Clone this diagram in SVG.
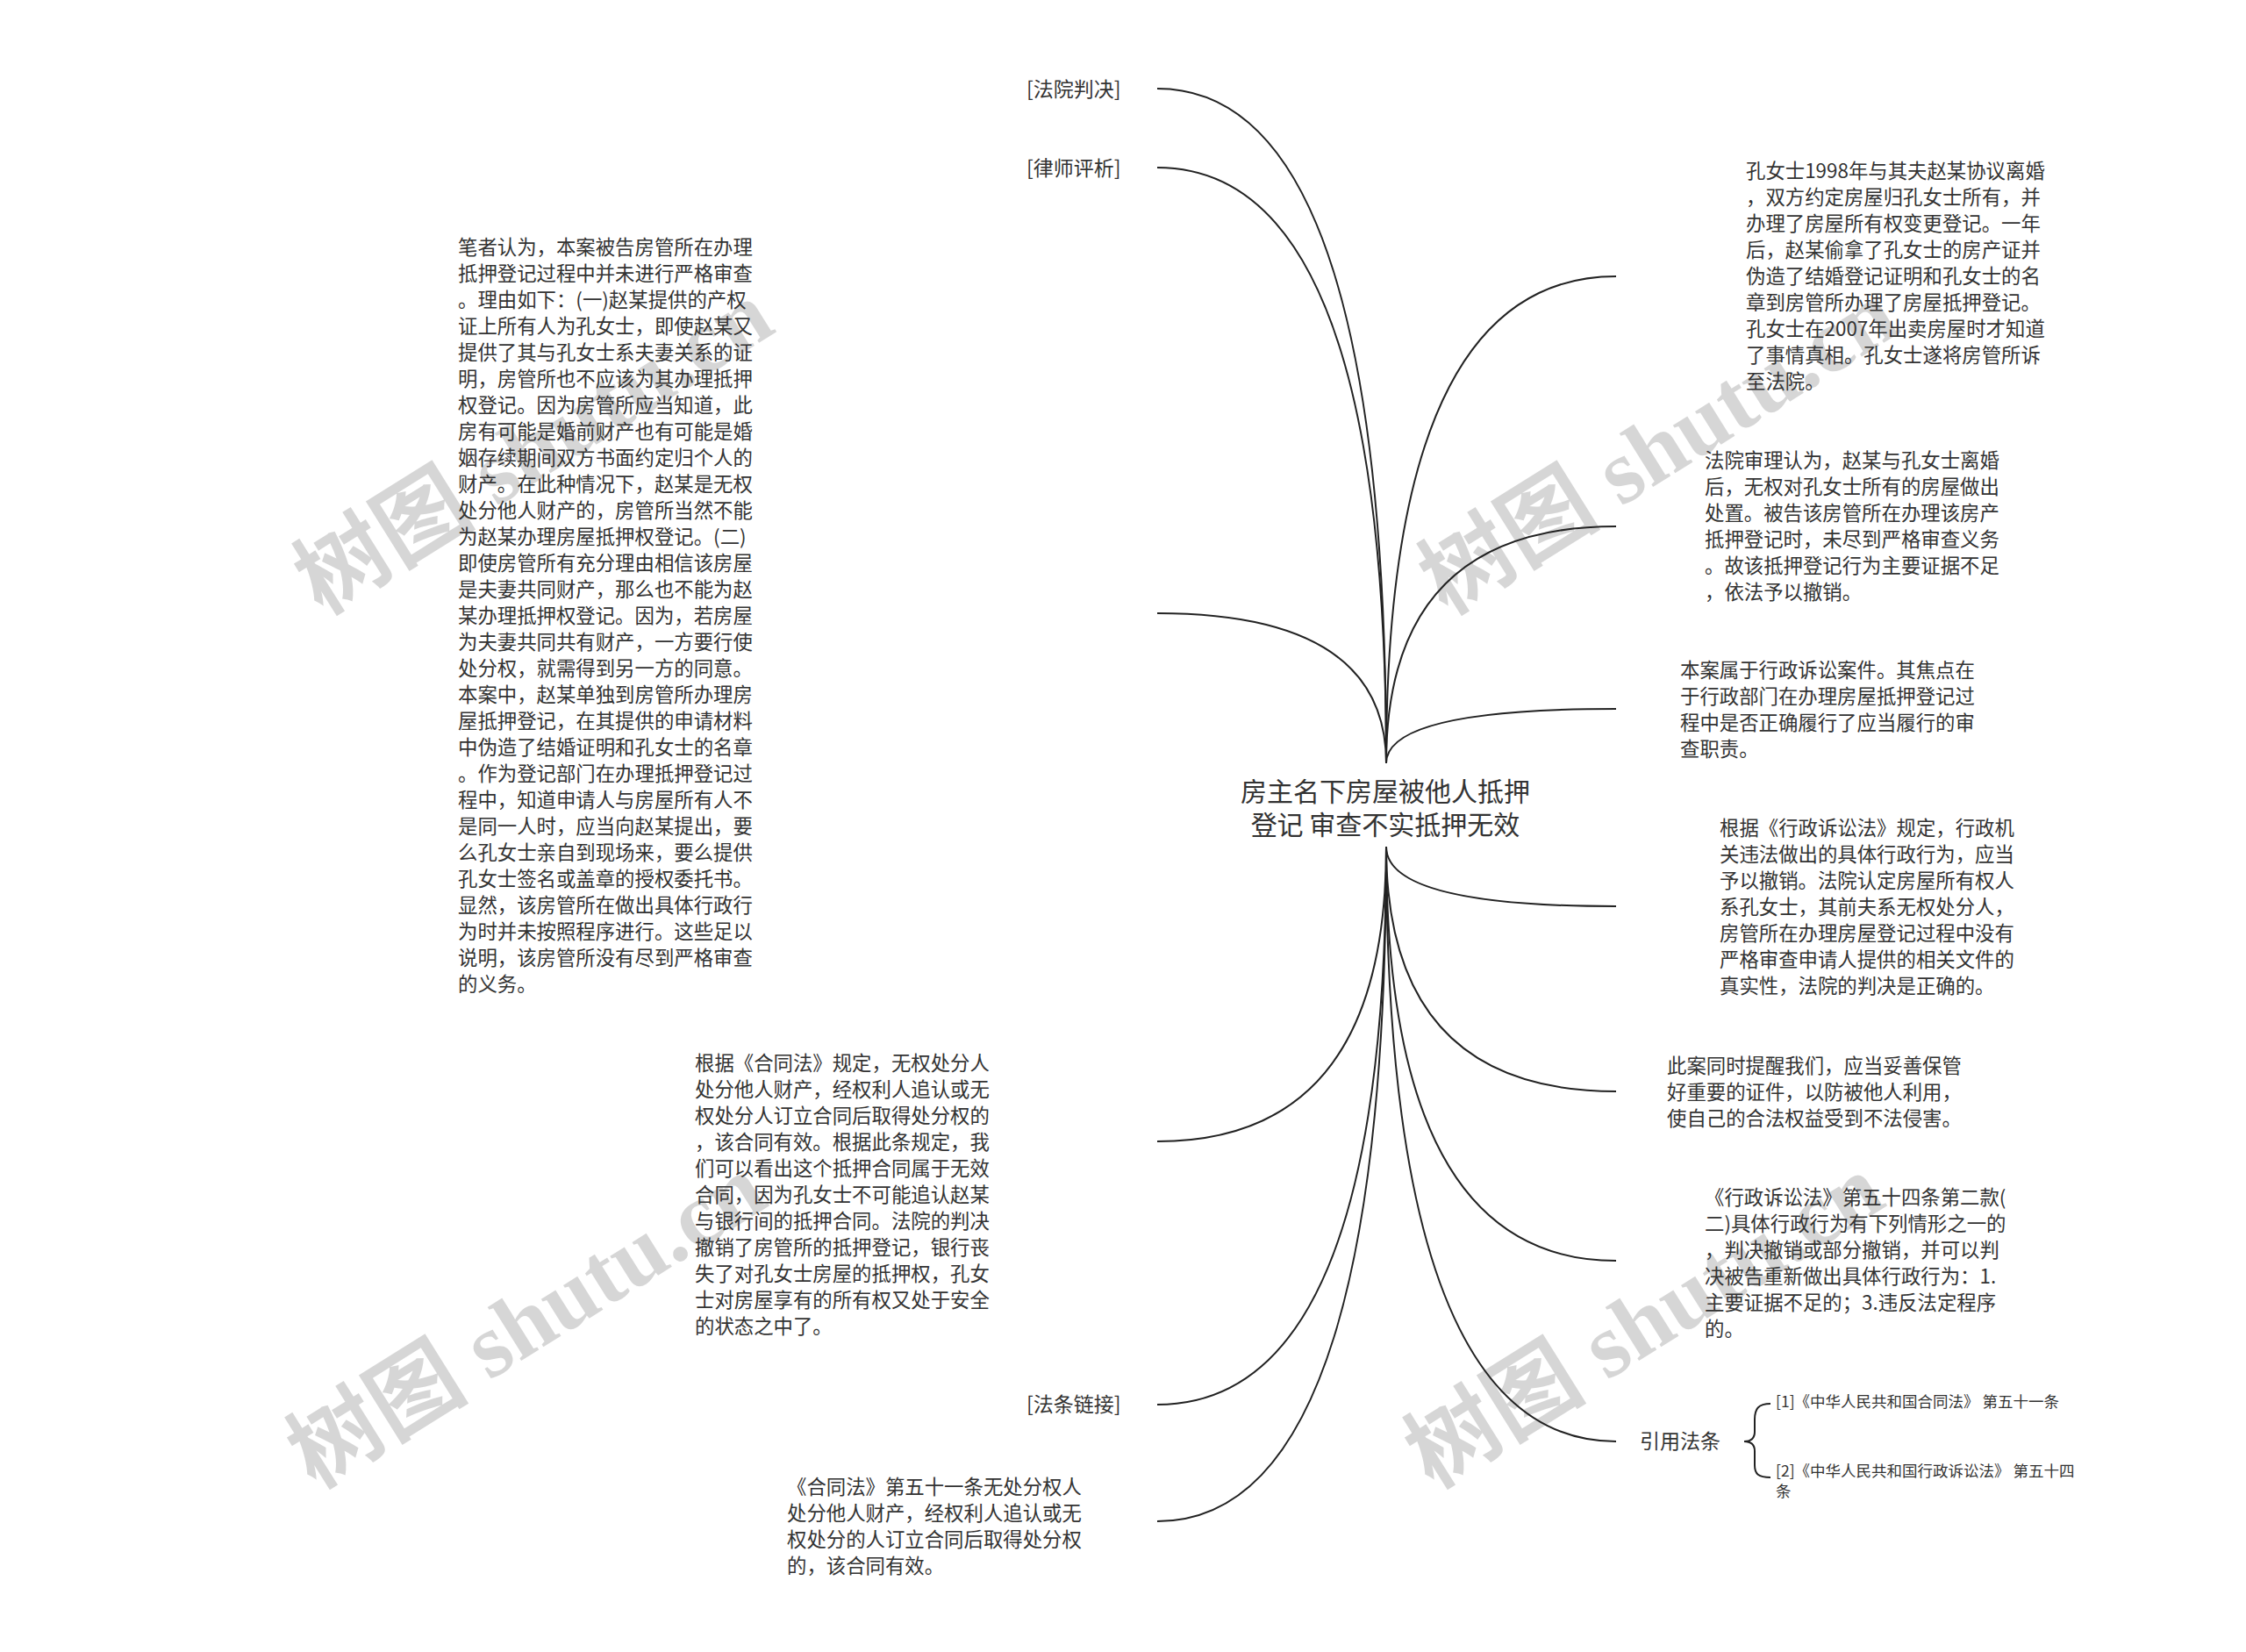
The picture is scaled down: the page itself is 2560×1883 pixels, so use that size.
<svg xmlns="http://www.w3.org/2000/svg" width="2560" height="1883" viewBox="0 0 2560 1883">
<style>
.wm{font-family:"Liberation Serif","Noto Sans CJK SC",serif;font-size:104px;fill:#000;fill-opacity:0.16;font-weight:bold}
.t{font-family:"Noto Sans CJK SC","Noto Sans",sans-serif;font-size:22.4px;fill:#333}
.lb{font-family:"Noto Sans CJK SC","Noto Sans",sans-serif;font-size:23px;fill:#333}
.title{font-family:"Noto Sans CJK SC","Noto Sans",sans-serif;font-size:30px;fill:#333;text-anchor:middle}
.s{font-family:"Noto Sans CJK SC","Noto Sans",sans-serif;font-size:17.5px;fill:#333}
.c{fill:none;stroke:#222;stroke-width:2}
</style>
<rect width="2560" height="1883" fill="#fff"/>
<g id="watermarks">
<text class="wm" transform="translate(367,702) rotate(-32)">树图 shutu.cn</text>
<text class="wm" transform="translate(1649,702) rotate(-32)">树图 shutu.cn</text>
<text class="wm" transform="translate(359,1698) rotate(-32)">树图 shutu.cn</text>
<text class="wm" transform="translate(1633,1698) rotate(-32)">树图 shutu.cn</text>
</g>
<g id="connectors">
<path class="c" d="M1580 870 Q1580 101 1319 101"/>
<path class="c" d="M1580 870 Q1580 191 1319 191"/>
<path class="c" d="M1580 870 Q1580 699 1319 699"/>
<path class="c" d="M1580 870 Q1580 315 1842 315"/>
<path class="c" d="M1580 870 Q1580 600 1842 600"/>
<path class="c" d="M1580 870 Q1580 808 1842 808"/>
<path class="c" d="M1580 965 Q1580 1301 1319 1301"/>
<path class="c" d="M1580 965 Q1580 1601 1319 1601"/>
<path class="c" d="M1580 965 Q1580 1734 1319 1734"/>
<path class="c" d="M1580 965 Q1580 1033 1842 1033"/>
<path class="c" d="M1580 965 Q1580 1244 1842 1244"/>
<path class="c" d="M1580 965 Q1580 1437 1842 1437"/>
<path class="c" d="M1580 965 Q1580 1643 1842 1643"/>
<path class="c" d="M2018 1600 C2004 1600 2000 1606 2000 1618 L2000 1632 C2000 1640 1996 1643 1988 1643 C1996 1643 2000 1646 2000 1654 L2000 1670 C2000 1680 2004 1684 2018 1684"/>
</g>
<g id="center">
<text class="title"><tspan x="1579" y="913">房主名下房屋被他人抵押</tspan><tspan x="1579" y="951">登记 审查不实抵押无效</tspan></text>
</g>
<g id="n-fyqj"><text class="lb" x="1170" y="110">[法院判决]</text></g>
<g id="n-lspx"><text class="lb" x="1170" y="200">[律师评析]</text></g>
<g id="n-bzrw">
<text class="t">
<tspan x="522" y="290">笔者认为，本案被告房管所在办理</tspan>
<tspan x="522" y="320">抵押登记过程中并未进行严格审查</tspan>
<tspan x="522" y="350">。理由如下：(一)赵某提供的产权</tspan>
<tspan x="522" y="380">证上所有人为孔女士，即使赵某又</tspan>
<tspan x="522" y="410">提供了其与孔女士系夫妻关系的证</tspan>
<tspan x="522" y="440">明，房管所也不应该为其办理抵押</tspan>
<tspan x="522" y="470">权登记。因为房管所应当知道，此</tspan>
<tspan x="522" y="500">房有可能是婚前财产也有可能是婚</tspan>
<tspan x="522" y="530">姻存续期间双方书面约定归个人的</tspan>
<tspan x="522" y="560">财产。在此种情况下，赵某是无权</tspan>
<tspan x="522" y="590">处分他人财产的，房管所当然不能</tspan>
<tspan x="522" y="620">为赵某办理房屋抵押权登记。(二)</tspan>
<tspan x="522" y="650">即使房管所有充分理由相信该房屋</tspan>
<tspan x="522" y="680">是夫妻共同财产，那么也不能为赵</tspan>
<tspan x="522" y="710">某办理抵押权登记。因为，若房屋</tspan>
<tspan x="522" y="740">为夫妻共同共有财产，一方要行使</tspan>
<tspan x="522" y="770">处分权，就需得到另一方的同意。</tspan>
<tspan x="522" y="800">本案中，赵某单独到房管所办理房</tspan>
<tspan x="522" y="830">屋抵押登记，在其提供的申请材料</tspan>
<tspan x="522" y="860">中伪造了结婚证明和孔女士的名章</tspan>
<tspan x="522" y="890">。作为登记部门在办理抵押登记过</tspan>
<tspan x="522" y="920">程中，知道申请人与房屋所有人不</tspan>
<tspan x="522" y="950">是同一人时，应当向赵某提出，要</tspan>
<tspan x="522" y="980">么孔女士亲自到现场来，要么提供</tspan>
<tspan x="522" y="1010">孔女士签名或盖章的授权委托书。</tspan>
<tspan x="522" y="1040">显然，该房管所在做出具体行政行</tspan>
<tspan x="522" y="1070">为时并未按照程序进行。这些足以</tspan>
<tspan x="522" y="1100">说明，该房管所没有尽到严格审查</tspan>
<tspan x="522" y="1130">的义务。</tspan>
</text>
</g>
<g id="n-gjhtf">
<text class="t">
<tspan x="792" y="1220">根据《合同法》规定，无权处分人</tspan>
<tspan x="792" y="1250">处分他人财产，经权利人追认或无</tspan>
<tspan x="792" y="1280">权处分人订立合同后取得处分权的</tspan>
<tspan x="792" y="1310">，该合同有效。根据此条规定，我</tspan>
<tspan x="792" y="1340">们可以看出这个抵押合同属于无效</tspan>
<tspan x="792" y="1370">合同，因为孔女士不可能追认赵某</tspan>
<tspan x="792" y="1400">与银行间的抵押合同。法院的判决</tspan>
<tspan x="792" y="1430">撤销了房管所的抵押登记，银行丧</tspan>
<tspan x="792" y="1460">失了对孔女士房屋的抵押权，孔女</tspan>
<tspan x="792" y="1490">士对房屋享有的所有权又处于安全</tspan>
<tspan x="792" y="1520">的状态之中了。</tspan>
</text>
</g>
<g id="n-ftlj"><text class="lb" x="1170" y="1609">[法条链接]</text></g>
<g id="n-htf51">
<text class="t">
<tspan x="897" y="1703">《合同法》第五十一条无处分权人</tspan>
<tspan x="897" y="1733">处分他人财产，经权利人追认或无</tspan>
<tspan x="897" y="1763">权处分的人订立合同后取得处分权</tspan>
<tspan x="897" y="1793">的，该合同有效。</tspan>
</text>
</g>
<g id="n-kns">
<text class="t">
<tspan x="1990" y="203">孔女士1998年与其夫赵某协议离婚</tspan>
<tspan x="1990" y="233">，双方约定房屋归孔女士所有，并</tspan>
<tspan x="1990" y="263">办理了房屋所有权变更登记。一年</tspan>
<tspan x="1990" y="293">后，赵某偷拿了孔女士的房产证并</tspan>
<tspan x="1990" y="323">伪造了结婚登记证明和孔女士的名</tspan>
<tspan x="1990" y="353">章到房管所办理了房屋抵押登记。</tspan>
<tspan x="1990" y="383">孔女士在2007年出卖房屋时才知道</tspan>
<tspan x="1990" y="413">了事情真相。孔女士遂将房管所诉</tspan>
<tspan x="1990" y="443">至法院。</tspan>
</text>
</g>
<g id="n-fysl">
<text class="t">
<tspan x="1943" y="533">法院审理认为，赵某与孔女士离婚</tspan>
<tspan x="1943" y="563">后，无权对孔女士所有的房屋做出</tspan>
<tspan x="1943" y="593">处置。被告该房管所在办理该房产</tspan>
<tspan x="1943" y="623">抵押登记时，未尽到严格审查义务</tspan>
<tspan x="1943" y="653">。故该抵押登记行为主要证据不足</tspan>
<tspan x="1943" y="683">，依法予以撤销。</tspan>
</text>
</g>
<g id="n-ba">
<text class="t">
<tspan x="1915" y="772">本案属于行政诉讼案件。其焦点在</tspan>
<tspan x="1915" y="802">于行政部门在办理房屋抵押登记过</tspan>
<tspan x="1915" y="832">程中是否正确履行了应当履行的审</tspan>
<tspan x="1915" y="862">查职责。</tspan>
</text>
</g>
<g id="n-xzssf">
<text class="t">
<tspan x="1960" y="952">根据《行政诉讼法》规定，行政机</tspan>
<tspan x="1960" y="982">关违法做出的具体行政行为，应当</tspan>
<tspan x="1960" y="1012">予以撤销。法院认定房屋所有权人</tspan>
<tspan x="1960" y="1042">系孔女士，其前夫系无权处分人，</tspan>
<tspan x="1960" y="1072">房管所在办理房屋登记过程中没有</tspan>
<tspan x="1960" y="1102">严格审查申请人提供的相关文件的</tspan>
<tspan x="1960" y="1132">真实性，法院的判决是正确的。</tspan>
</text>
</g>
<g id="n-cats">
<text class="t">
<tspan x="1900" y="1223">此案同时提醒我们，应当妥善保管</tspan>
<tspan x="1900" y="1253">好重要的证件，以防被他人利用，</tspan>
<tspan x="1900" y="1283">使自己的合法权益受到不法侵害。</tspan>
</text>
</g>
<g id="n-xzss54">
<text class="t">
<tspan x="1943" y="1373">《行政诉讼法》第五十四条第二款(</tspan>
<tspan x="1943" y="1403">二)具体行政行为有下列情形之一的</tspan>
<tspan x="1943" y="1433">，判决撤销或部分撤销，并可以判</tspan>
<tspan x="1943" y="1463">决被告重新做出具体行政行为：1.</tspan>
<tspan x="1943" y="1493">主要证据不足的；3.违反法定程序</tspan>
<tspan x="1943" y="1523">的。</tspan>
</text>
</g>
<g id="n-yyft">
<text class="lb" x="1869" y="1651">引用法条</text>
</g>
<g id="n-ft1"><text class="s" x="2024" y="1604">[1]《中华人民共和国合同法》 第五十一条</text></g>
<g id="n-ft2">
<text class="s">
<tspan x="2024" y="1683">[2]《中华人民共和国行政诉讼法》 第五十四</tspan>
<tspan x="2024" y="1706">条</tspan>
</text>
</g>
</svg>
